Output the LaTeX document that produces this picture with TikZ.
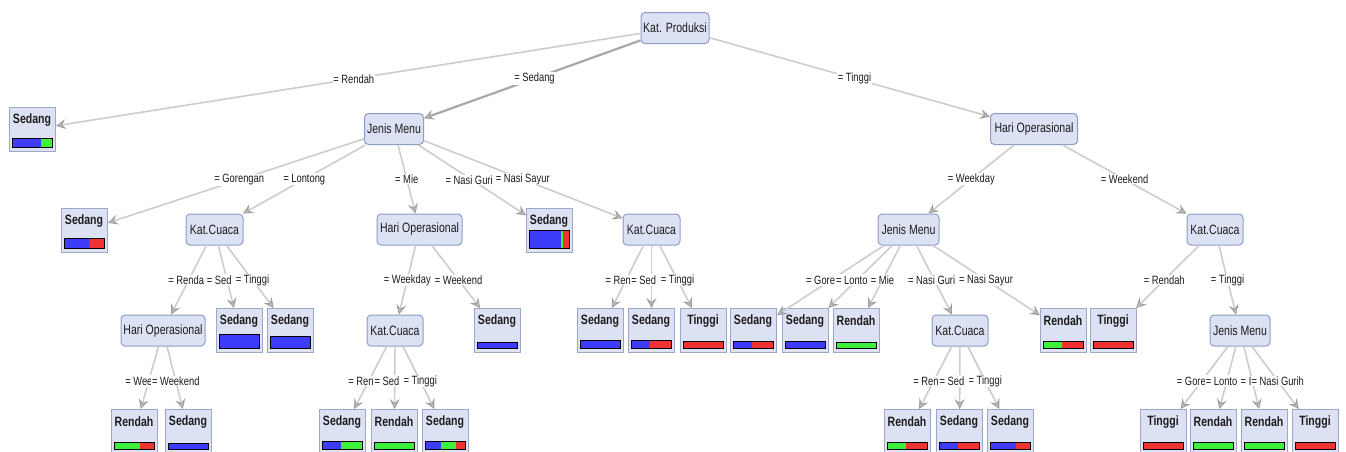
\documentclass[tikz,border=0pt]{standalone}
\usepackage{fontspec}
\setmainfont{Liberation Sans}[FakeStretch=0.78]
\usetikzlibrary{arrows.meta,calc}
\definecolor{nodefill}{HTML}{DCE2F3}
\definecolor{nodeborder}{HTML}{8F9CC6}
\definecolor{leafborder}{HTML}{9CA7C9}
\definecolor{edgecol}{HTML}{CDCDCD}
\definecolor{edgedark}{HTML}{A8A8A8}
\definecolor{arrowcol}{HTML}{9C9C9C}
\definecolor{arrowfill}{HTML}{BDBDBD}
\definecolor{cblue}{HTML}{3C3CFA}
\definecolor{cgreen}{HTML}{3CF03C}
\definecolor{cred}{HTML}{F03232}
\definecolor{txt}{HTML}{1C1C1C}
\tikzset{
  inner/.style={rounded corners=4pt, draw=nodeborder, fill=nodefill, line width=1pt,
    minimum height=31pt, inner sep=0pt, text=txt, font=\fontsize{13.5}{14}\selectfont},
  leaf/.style={draw=leafborder, fill=nodefill, line width=1pt, minimum width=46pt,
    minimum height=44pt, inner sep=0pt},
  leaftext/.style={inner sep=0pt, text=txt, font=\bfseries\fontsize{13.5}{14}\selectfont},
  barline/.style={draw=black, line width=0.9pt},
  edge/.style={draw=edgecol, line width=1.6pt,
    -{Stealth[length=10pt,width=10pt,inset=4pt,fill=arrowfill,color=arrowcol,line width=0.8pt]}},
  edgestrong/.style={edge, draw=edgedark, line width=2.2pt},
  elabel/.style={fill=white, inner sep=0.6pt, text=txt, font=\fontsize{12}{13}\selectfont},
  elabeltext/.style={inner sep=0.6pt, text=txt, font=\fontsize{12}{13}\selectfont},
}
\newcommand\leafnode[8]{%
  \node[leaf, anchor=north west] (#1) at (#2,#3) {};
  \node[leaftext] (#1t) at (#2+23,#3+13) {#4};
  \pgfmathsetmacro\xa{#2+3}%
  \pgfmathsetmacro\xb{#2+3+40*#6}%
  \pgfmathsetmacro\xc{#2+3+40*(#6+#7)}%
  \pgfmathsetmacro\xd{#2+43}%
  \pgfmathsetmacro\ya{#3+40-#5}%
  \pgfmathsetmacro\yb{#3+40}%
  \fill[cblue] (\xa,\ya) rectangle (\xb,\yb);
  \fill[cgreen] (\xb,\ya) rectangle (\xc,\yb);
  \fill[cred] (\xc,\ya) rectangle (\xd,\yb);
  \draw[barline] (\xa,\ya) rectangle (\xd,\yb);
}
% full edge label at the midpoint of the two node centres
\newcommand\elab[3]{\node[elabel] at ($(#1.center)!0.5!(#2.center)$) {#3};}
% edge label partly hidden by the next one: white box of the full label, visible part of its text
\newcommand\elabt[4]{%
  \node[elabel] (lbox) at ($(#1.center)!0.5!(#2.center)$) {\phantom{#3}};
  \node[elabeltext, anchor=west] at (lbox.west) {#4};}
\begin{document}
\begin{tikzpicture}[x=1pt,y=-1pt]
\useasboundingbox (0,0) rectangle (1346,451);
\clip (0,0) rectangle (1346,451);
\fill[white] (0,0) rectangle (1346,451);
% internal nodes
\node[inner, minimum width=68pt] (kp) at (675,28) {Kat. Produksi};
\node[inner, minimum width=59pt] (jm1) at (394,129) {Jenis Menu};
\node[inner, minimum width=87pt] (ho1) at (1034,129) {Hari Operasional};
\node[inner, minimum width=57pt] (kc1) at (214.5,229.5) {Kat.Cuaca};
\node[inner, minimum width=85pt] (ho2) at (419.5,229.5) {Hari Operasional};
\node[inner, minimum width=57pt] (kc2) at (651.5,229.5) {Kat.Cuaca};
\node[inner, minimum width=61pt] (jm2) at (908.5,229.5) {Jenis Menu};
\node[inner, minimum width=56pt] (kc3) at (1215,229.5) {Kat.Cuaca};
\node[inner, minimum width=84pt] (ho3) at (163,330.5) {Hari Operasional};
\node[inner, minimum width=56pt] (kc4) at (395,330.5) {Kat.Cuaca};
\node[inner, minimum width=56pt] (kc5) at (960,330.5) {Kat.Cuaca};
\node[inner, minimum width=60pt] (jm3) at (1240,330.5) {Jenis Menu};
% leaves: name, x, y, label, bar height, blue, green, red
\leafnode{l1}{9}{107}{Sedang}{9}{0.73}{0.27}{0}
\leafnode{l2}{61}{208}{Sedang}{10}{0.64}{0}{0.36}
\leafnode{l3}{526}{208}{Sedang}{18}{0.80}{0.05}{0.15}
\leafnode{l4}{216}{308}{Sedang}{14}{1}{0}{0}
\leafnode{l5}{267}{308}{Sedang}{12}{1}{0}{0}
\leafnode{l6}{474}{308}{Sedang}{6}{1}{0}{0}
\leafnode{l7}{577}{308}{Sedang}{8}{1}{0}{0}
\leafnode{l8}{628}{308}{Sedang}{8}{0.47}{0}{0.53}
\leafnode{l9}{680}{308}{Tinggi}{7}{0}{0}{1}
\leafnode{l10}{730}{308}{Sedang}{7}{0.48}{0}{0.52}
\leafnode{l11}{782}{308}{Sedang}{7}{1}{0}{0}
\leafnode{l12}{833}{308}{Rendah}{6}{0}{1}{0}
\leafnode{l13}{1040}{308}{Rendah}{7}{0}{0.48}{0.52}
\leafnode{l14}{1090}{308}{Tinggi}{7}{0}{0}{1}
\leafnode{l15}{111}{409}{Rendah}{7}{0}{0.65}{0.35}
\leafnode{l16}{165}{409}{Sedang}{6}{1}{0}{0}
\leafnode{l17}{319}{409}{Sedang}{8}{0.48}{0.52}{0}
\leafnode{l18}{371}{409}{Rendah}{7}{0}{1}{0}
\leafnode{l19}{422}{409}{Sedang}{8}{0.39}{0.39}{0.22}
\leafnode{l20}{884}{409}{Rendah}{7}{0}{0.48}{0.52}
\leafnode{l21}{936}{409}{Sedang}{7}{0.48}{0}{0.52}
\leafnode{l22}{987}{409}{Sedang}{7}{0.65}{0}{0.35}
\leafnode{l23}{1140}{409}{Tinggi}{7}{0}{0}{1}
\leafnode{l24}{1190}{409}{Rendah}{7}{0}{1}{0}
\leafnode{l25}{1241}{409}{Rendah}{7}{0}{1}{0}
\leafnode{l26}{1292}{409}{Tinggi}{7}{0}{0}{1}
% edges
\draw[edge] (kp) -- (l1);
\draw[edgestrong] (kp) -- (jm1);
\draw[edge] (kp) -- (ho1);
\draw[edge] (jm1) -- (l2);
\draw[edge] (jm1) -- (kc1);
\draw[edge] (jm1) -- (ho2);
\draw[edge] (jm1) -- (l3);
\draw[edge] (jm1) -- (kc2);
\draw[edge] (ho1) -- (jm2);
\draw[edge] (ho1) -- (kc3);
\draw[edge] (kc1) -- (ho3);
\draw[edge] (kc1) -- (l4);
\draw[edge] (kc1) -- (l5);
\draw[edge] (ho2) -- (kc4);
\draw[edge] (ho2) -- (l6);
\draw[edge] (kc2) -- (l7);
\draw[edge] (kc2) -- (l8);
\draw[edge] (kc2) -- (l9);
\draw[edge] (jm2) -- (l10);
\draw[edge] (jm2) -- (l11);
\draw[edge] (jm2) -- (l12);
\draw[edge] (jm2) -- (kc5);
\draw[edge] (jm2) -- (l13);
\draw[edge] (kc3) -- (l14);
\draw[edge] (kc3) -- (jm3);
\draw[edge] (ho3) -- (l15);
\draw[edge] (ho3) -- (l16);
\draw[edge] (kc4) -- (l17);
\draw[edge] (kc4) -- (l18);
\draw[edge] (kc4) -- (l19);
\draw[edge] (kc5) -- (l20);
\draw[edge] (kc5) -- (l21);
\draw[edge] (kc5) -- (l22);
\draw[edge] (jm3) -- (l23);
\draw[edge] (jm3) -- (l24);
\draw[edge] (jm3) -- (l25);
\draw[edge] (jm3) -- (l26);
% edge labels
\elab{kp}{l1}{= Rendah}
\elab{kp}{jm1}{= Sedang}
\elab{kp}{ho1}{= Tinggi}
\elab{jm1}{l2}{= Gorengan}
\elab{jm1}{kc1}{= Lontong}
\elab{jm1}{ho2}{= Mie}
\elabt{jm1}{l3}{= Nasi Gurih}{= Nasi Guri}
\elab{jm1}{kc2}{= Nasi Sayur}
\elab{ho1}{jm2}{= Weekday}
\elab{ho1}{kc3}{= Weekend}
\elabt{kc1}{ho3}{= Rendah}{= Renda}
\elabt{kc1}{l4}{= Sedang}{= Sed}
\elab{kc1}{l5}{= Tinggi}
\elab{ho2}{kc4}{= Weekday}
\elab{ho2}{l6}{= Weekend}
\elabt{kc2}{l7}{= Rendah}{= Ren}
\elabt{kc2}{l8}{= Sedang}{= Sed}
\elab{kc2}{l9}{= Tinggi}
\elabt{jm2}{l10}{= Gorengan}{= Gore}
\elabt{jm2}{l11}{= Lontong}{= Lonto}
\elab{jm2}{l12}{= Mie}
\elabt{jm2}{kc5}{= Nasi Gurih}{= Nasi Guri}
\elab{jm2}{l13}{= Nasi Sayur}
\elab{kc3}{l14}{= Rendah}
\elab{kc3}{jm3}{= Tinggi}
\elabt{ho3}{l15}{= Weekday}{= Wee}
\elab{ho3}{l16}{= Weekend}
\elabt{kc4}{l17}{= Rendah}{= Ren}
\elabt{kc4}{l18}{= Sedang}{= Sed}
\elab{kc4}{l19}{= Tinggi}
\elabt{kc5}{l20}{= Rendah}{= Ren}
\elabt{kc5}{l21}{= Sedang}{= Sed}
\elab{kc5}{l22}{= Tinggi}
\elabt{jm3}{l23}{= Gorengan}{= Gore}
\elabt{jm3}{l24}{= Lontong}{= Lonto}
\elabt{jm3}{l25}{= Mie}{= I}
\elab{jm3}{l26}{= Nasi Gurih}
\end{tikzpicture}
\end{document}
